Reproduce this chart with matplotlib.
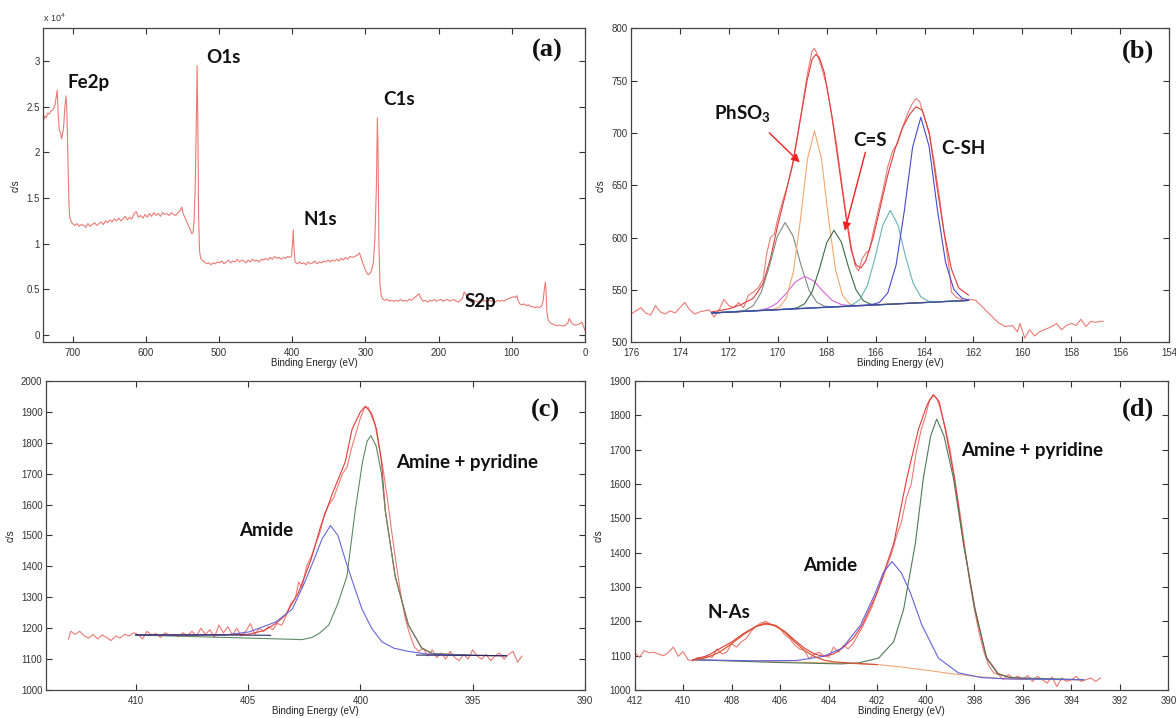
import numpy as np
import matplotlib
matplotlib.use("Agg")
import matplotlib.pyplot as plt
from matplotlib.ticker import FormatStrFormatter

plt.rcParams['font.family'] = ['Liberation Sans', 'DejaVu Sans']
plt.rcParams['mathtext.fontset'] = 'custom'
plt.rcParams['mathtext.rm'] = 'Lato'
plt.rcParams['mathtext.bf'] = 'Lato:bold'

# ---------------- (a) survey spectrum, (binding energy, counts / 1e4)
survey = [
    (742, 2.35), (740, 2.34), (738, 2.40), (736, 2.38), (734, 2.43), (732, 2.42), (730, 2.45), (728, 2.46),
    (726, 2.48), (724, 2.52), (722.5, 2.60), (721, 2.68), (719.5, 2.40), (718, 2.24), (716.5, 2.22),
    (715, 2.15), (713.5, 2.20), (712, 2.30), (710.5, 2.50), (709, 2.62), (708, 2.50), (707, 2.20),
    (706, 1.80), (705, 1.45), (704, 1.30), (702, 1.24),
    (700, 1.22), (697, 1.20), (694, 1.22), (691, 1.19), (688, 1.21), (685, 1.20), (682, 1.18), (679, 1.22),
    (676, 1.19), (673, 1.21), (670, 1.23), (667, 1.20), (664, 1.22), (661, 1.24), (658, 1.21), (655, 1.25),
    (652, 1.23), (649, 1.26), (646, 1.24), (643, 1.27), (640, 1.25), (637, 1.28), (634, 1.25), (631, 1.27),
    (628, 1.30), (625, 1.26), (622, 1.29), (619, 1.27), (616, 1.33), (613, 1.35), (610, 1.29), (607, 1.31),
    (604, 1.28), (601, 1.32), (598, 1.29), (595, 1.33), (592, 1.30), (589, 1.34), (586, 1.31), (583, 1.33),
    (580, 1.30), (577, 1.34), (574, 1.32), (571, 1.33), (568, 1.31), (565, 1.34), (562, 1.32), (559, 1.31),
    (556, 1.34), (553, 1.36), (550.6, 1.40), (549, 1.33), (546, 1.28), (543, 1.22), (540, 1.17),
    (537, 1.11), (535.5, 1.12), (534, 1.25), (532.5, 1.60), (531, 2.30), (529.8, 2.95), (528.8, 2.30),
    (527.8, 1.30), (526.5, 0.92), (525, 0.84), (523, 0.82), (520, 0.80), (517, 0.78), (514, 0.79),
    (511, 0.77), (508, 0.79), (505, 0.78), (502, 0.80), (499, 0.79), (496, 0.81), (493, 0.78), (490, 0.80),
    (487, 0.82), (484, 0.79), (481, 0.81), (478, 0.80), (475, 0.83), (472, 0.80), (469, 0.82), (466, 0.81),
    (463, 0.79), (460, 0.82), (457, 0.80), (454, 0.83), (451, 0.81), (448, 0.82), (445, 0.80), (442, 0.83),
    (439, 0.82), (436, 0.84), (433, 0.82), (430, 0.85), (427, 0.83), (424, 0.86), (421, 0.84), (418, 0.85),
    (415, 0.83), (412, 0.85), (409, 0.84), (406, 0.86), (403, 0.85), (401, 0.86), (399.5, 1.00),
    (398.5, 1.15), (397.5, 0.95), (396, 0.80), (393, 0.78), (390, 0.80), (387, 0.78), (384, 0.79),
    (381, 0.77), (378, 0.80), (375, 0.78), (372, 0.79), (369, 0.81), (366, 0.78), (363, 0.80), (360, 0.79),
    (357, 0.81), (354, 0.80), (351, 0.82), (348, 0.80), (345, 0.82), (342, 0.81), (339, 0.83), (336, 0.81),
    (333, 0.84), (330, 0.82), (327, 0.85), (324, 0.83), (321, 0.86), (318, 0.85), (315, 0.86), (312, 0.87),
    (310, 0.88), (308, 0.90), (306, 0.85), (304, 0.80), (301, 0.73), (298, 0.68), (296, 0.66), (293, 0.68),
    (291, 0.72), (289, 0.80), (287, 1.05), (285, 1.60), (283.5, 2.38), (282.5, 1.90), (281.5, 1.00),
    (280, 0.55), (278, 0.42), (276, 0.39), (273, 0.38), (270, 0.39), (267, 0.37), (264, 0.38), (261, 0.37),
    (258, 0.38), (255, 0.37), (252, 0.39), (249, 0.37), (246, 0.38), (243, 0.37), (240, 0.39), (237, 0.38),
    (234, 0.40), (231, 0.42), (228.5, 0.44), (226.5, 0.45), (224, 0.40), (221, 0.37), (218, 0.38),
    (215, 0.36), (212, 0.38), (209, 0.37), (206, 0.39), (203, 0.37), (200, 0.38), (197, 0.39), (194, 0.37),
    (191, 0.38), (188, 0.39), (185, 0.37), (182, 0.38), (179, 0.39), (176, 0.37), (173, 0.36), (170, 0.38),
    (167.5, 0.40), (165, 0.47), (163, 0.45), (161, 0.40), (158, 0.38), (155, 0.36), (152, 0.38),
    (149, 0.37), (146, 0.36), (143, 0.38), (140, 0.37), (137, 0.38), (134, 0.36), (131, 0.38), (128, 0.37),
    (125, 0.38), (122, 0.36), (119, 0.38), (116, 0.37), (113, 0.38), (110, 0.37), (107, 0.39), (104, 0.40),
    (101, 0.41), (98, 0.42), (95, 0.41), (93, 0.43), (91, 0.37), (89, 0.34), (86, 0.33), (83, 0.34),
    (80, 0.32), (77, 0.33), (74, 0.31), (71, 0.31), (68, 0.30), (65, 0.31), (62, 0.30), (59, 0.32),
    (57, 0.38), (55.5, 0.50), (54, 0.58), (53, 0.45), (52, 0.25), (50, 0.16), (47, 0.13), (44, 0.12),
    (41, 0.11), (38, 0.10), (35, 0.11), (32, 0.10), (29, 0.10), (26, 0.11), (23.5, 0.13), (21.5, 0.18),
    (19.5, 0.15), (17, 0.12), (14, 0.11), (11, 0.11), (8, 0.12), (6, 0.13), (4, 0.14), (2, 0.10), (0, 0.05)]

# ---------------- (b) S2p
s_raw = [
    (176.0, 527), (175.8, 530), (175.6, 533), (175.4, 528), (175.2, 526), (175.0, 535), (174.8, 529),
    (174.6, 527), (174.4, 530), (174.2, 528), (174.0, 533), (173.8, 538), (173.6, 531), (173.4, 527),
    (173.2, 529), (173.0, 530), (172.8, 531), (172.6, 524), (172.4, 531), (172.2, 541), (172.0, 535),
    (171.8, 533), (171.6, 538), (171.4, 533), (171.2, 545), (171.0, 548), (170.8, 552), (170.6, 560),
    (170.45, 585), (170.3, 600), (170.15, 603), (170.0, 618), (169.8, 635), (169.6, 650), (169.4, 668),
    (169.2, 695), (169.0, 725), (168.8, 755), (168.6, 778), (168.5, 781), (168.4, 776), (168.2, 762),
    (168.0, 745), (167.8, 718), (167.6, 690), (167.4, 655), (167.2, 622), (167.0, 592), (166.85, 574),
    (166.7, 568), (166.55, 580), (166.4, 585), (166.25, 588), (166.1, 605), (165.9, 625), (165.7, 645),
    (165.5, 668), (165.3, 683), (165.1, 690), (164.9, 705), (164.7, 718), (164.5, 728), (164.35, 733),
    (164.2, 730), (164.0, 715), (163.8, 698), (163.6, 672), (163.4, 640), (163.2, 605), (163.0, 572),
    (162.9, 548), (162.7, 543), (162.4, 540), (162.1, 541), (161.9, 540), (161.6, 533), (161.3, 526),
    (161.0, 519), (160.7, 515), (160.4, 516), (160.2, 510), (160.1, 518), (159.9, 504), (159.7, 512),
    (159.5, 506), (159.3, 510), (159.0, 513), (158.8, 515), (158.6, 518), (158.4, 512), (158.2, 516),
    (158.0, 518), (157.8, 516), (157.6, 522), (157.4, 515), (157.2, 520), (157.0, 519), (156.8, 520),
    (156.7, 520)]
s_env_E = [172.7, 172.0, 171.5, 171.0, 170.6, 170.3, 170.0, 169.7, 169.4, 169.1, 168.8, 168.6, 168.45, 168.3,
           168.1, 167.8, 167.5, 167.2, 167.0, 166.8, 166.6, 166.4, 166.1, 165.8, 165.5, 165.2, 164.9, 164.6,
           164.35, 164.1, 163.8, 163.5, 163.2, 162.9, 162.6, 162.2]
s_env_I = [529, 532, 536, 542, 556, 580, 612, 640, 670, 710, 750, 770, 775, 772, 758, 718, 668, 618, 588, 574,
           571, 578, 600, 630, 660, 685, 705, 718, 725, 722, 700, 650, 605, 570, 552, 545]
s_bg_E = [172.7, 162.2]
s_bg_I = [528, 540]
s_gray_E = [172.7, 171.78, 171.325, 171.0, 170.675, 170.35, 170.025, 169.7, 169.375, 169.05, 168.725, 168.4,
            168.075, 167.62, 162.2]
s_gray_I = [528, 529.3, 530.7, 535.1, 547.7, 572.2, 600.8, 614.4, 601.6, 573.7, 549.9, 538.1, 534.4, 533.8, 540]
s_mag_E = [172.7, 171.3, 170.775, 170.4, 170.025, 169.65, 169.275, 168.9, 168.525, 168.15, 167.775, 167.4,
           167.025, 166.5, 162.2]
s_mag_I = [528, 529.6, 530.6, 532.5, 537.5, 546.8, 557.7, 563.0, 558.6, 548.6, 540.0, 536.0, 534.9, 535.1, 540]
s_org_E = [172.7, 170.225, 169.9375, 169.65, 169.3625, 169.075, 168.7875, 168.5, 168.2125, 167.925, 167.6375,
           167.35, 167.0625, 166.775, 162.2]
s_org_I = [528, 531.1, 533.4, 542.1, 567.3, 616.7, 674.8, 702.0, 675.4, 618.1, 569.3, 544.7, 536.6, 535.1, 540]
s_grn_E = [172.7, 169.5, 169.2, 168.9, 168.6, 168.3, 168.0, 167.7, 167.4, 167.1, 166.8, 166.5, 166.2, 165.9,
           162.2]
s_grn_I = [528, 531.8, 533.0, 536.9, 548.1, 569.7, 595.0, 607.0, 595.7, 571.1, 550.1, 539.7, 536.4, 535.9, 540]
s_teal_E = [172.7, 167.275, 166.9625, 166.65, 166.3375, 166.025, 165.7125, 165.4, 165.0875, 164.775, 164.4625,
            164.15, 163.8375, 163.525, 162.2]
s_teal_I = [528, 534.4, 535.8, 540.5, 554.1, 580.5, 611.4, 626.0, 612.1, 581.9, 556.2, 543.4, 539.3, 538.7, 540]
s_blue_E = [172.7, 166.175, 165.8375, 165.5, 165.1625, 164.825, 164.4875, 164.15, 163.8125, 163.475, 163.1375,
            162.8, 162.4625, 162.2]
s_blue_I = [528, 535.8, 538.1, 547.3, 573.8, 625.6, 686.4, 715.0, 687.2, 627.1, 576.1, 550.4, 542.0, 540.5]

# ---------------- (c) N1s
c_raw = [
    (413.0, 1165), (412.9, 1190), (412.7, 1180), (412.5, 1190), (412.3, 1175), (412.1, 1168), (411.9, 1180),
    (411.7, 1165), (411.5, 1178), (411.3, 1170), (411.1, 1160), (410.9, 1175), (410.7, 1168), (410.5, 1180),
    (410.3, 1175), (410.1, 1185), (409.9, 1180), (409.7, 1165), (409.5, 1190), (409.3, 1178), (409.1, 1183),
    (408.9, 1170), (408.7, 1185), (408.5, 1178), (408.3, 1180), (408.1, 1172), (407.9, 1185), (407.7, 1176),
    (407.5, 1190), (407.3, 1175), (407.1, 1200), (406.9, 1180), (406.7, 1195), (406.5, 1170), (406.3, 1210),
    (406.1, 1185), (405.9, 1205), (405.7, 1178), (405.5, 1200), (405.3, 1175), (405.1, 1190), (404.9, 1215),
    (404.7, 1180), (404.5, 1200), (404.3, 1190), (404.1, 1205), (403.9, 1195), (403.7, 1215), (403.5, 1210),
    (403.3, 1240), (403.1, 1280), (402.9, 1295), (402.75, 1350), (402.6, 1330), (402.4, 1400), (402.2, 1430),
    (402.0, 1470), (401.8, 1510), (401.6, 1570), (401.4, 1600), (401.2, 1620), (401.0, 1660), (400.8, 1700),
    (400.6, 1720), (400.4, 1780), (400.2, 1830), (400.0, 1880), (399.8, 1915), (399.65, 1915), (399.5, 1885),
    (399.35, 1860), (399.2, 1800), (399.0, 1720), (398.8, 1620), (398.6, 1510), (398.4, 1405), (398.2, 1310),
    (398.0, 1230), (397.8, 1180), (397.6, 1140), (397.4, 1125), (397.2, 1135), (397.0, 1110), (396.8, 1130),
    (396.6, 1105), (396.4, 1120), (396.2, 1100), (396.0, 1125), (395.8, 1105), (395.6, 1095), (395.4, 1115),
    (395.2, 1100), (395.0, 1130), (394.8, 1110), (394.6, 1100), (394.4, 1115), (394.2, 1095), (394.0, 1110),
    (393.8, 1120), (393.6, 1100), (393.4, 1115), (393.2, 1125), (393.0, 1090), (392.8, 1110)]
c_env_E = [410, 405, 404.3, 403.77, 403.35, 402.76, 402.2, 401.78, 401.26, 400.67, 400.37, 400.0, 399.78,
           399.5, 399.28, 399.06, 398.89, 398.45, 397.86, 397.27, 396.8, 395, 393.5]
c_env_I = [1178, 1180, 1192, 1215, 1241, 1315, 1421, 1527, 1633, 1739, 1844, 1900, 1918, 1895, 1844, 1739,
           1580, 1368, 1210, 1136, 1118, 1112, 1111]
c_amide_E = [410, 406, 404.95, 403.77, 403.03, 402.5, 402.07, 401.7, 401.33, 401.0, 400.67, 400.3, 399.93,
             399.5, 399.04, 398.5, 397.86, 397.0, 395, 393.5]
c_amide_I = [1178, 1178, 1188, 1220, 1262, 1345, 1421, 1490, 1532, 1500, 1421, 1340, 1262, 1200, 1156, 1135,
             1125, 1116, 1112, 1111]
c_amine_E = [410, 407, 404, 402.6, 402.15, 401.8, 401.41, 401.0, 400.6, 400.23, 399.9, 399.7, 399.53, 399.3,
             399.06, 398.89, 398.45, 397.86, 397.27, 396.8, 395, 393.5]
c_amine_I = [1178, 1172, 1166, 1163, 1170, 1185, 1210, 1280, 1368, 1580, 1740, 1805, 1823, 1790, 1700, 1580,
             1368, 1210, 1136, 1118, 1112, 1111]
c_bg_E = [410, 406, 404, np.nan, 397.5, 395, 393.5]
c_bg_I = [1178, 1178, 1177, np.nan, 1113, 1112, 1111]

# ---------------- (d) N1s with N-As
d_raw = [
    (412.0, 1110), (411.8, 1095), (411.6, 1115), (411.4, 1108), (411.2, 1110), (411.0, 1104), (410.8, 1100),
    (410.6, 1110), (410.4, 1125), (410.2, 1098), (410.0, 1112), (409.8, 1088), (409.6, 1085), (409.4, 1095),
    (409.2, 1090), (409.0, 1100), (408.8, 1095), (408.6, 1120), (408.4, 1105), (408.2, 1110), (408.0, 1135),
    (407.8, 1125), (407.6, 1140), (407.4, 1150), (407.2, 1170), (407.0, 1185), (406.8, 1195), (406.6, 1200),
    (406.4, 1192), (406.2, 1185), (406.0, 1178), (405.8, 1160), (405.6, 1150), (405.4, 1130), (405.2, 1120),
    (405.0, 1115), (404.8, 1090), (404.6, 1105), (404.4, 1110), (404.2, 1100), (404.0, 1095), (403.8, 1125),
    (403.6, 1110), (403.4, 1130), (403.2, 1120), (403.0, 1135), (402.8, 1160), (402.6, 1185), (402.4, 1215),
    (402.2, 1245), (402.0, 1285), (401.8, 1320), (401.6, 1360), (401.4, 1400), (401.2, 1450), (401.0, 1490),
    (400.8, 1560), (400.6, 1600), (400.4, 1690), (400.2, 1755), (400.0, 1800), (399.85, 1845), (399.7, 1858),
    (399.55, 1850), (399.4, 1820), (399.2, 1765), (399.0, 1700), (398.8, 1610), (398.6, 1520), (398.4, 1420),
    (398.2, 1320), (398.0, 1235), (397.8, 1165), (397.6, 1110), (397.4, 1070), (397.2, 1050), (397.0, 1045),
    (396.8, 1030), (396.6, 1045), (396.4, 1035), (396.2, 1040), (396.0, 1030), (395.8, 1042), (395.6, 1025),
    (395.4, 1040), (395.2, 1030), (395.0, 1020), (394.8, 1038), (394.6, 1010), (394.4, 1035), (394.2, 1025),
    (394.0, 1030), (393.8, 1040), (393.6, 1025), (393.4, 1030), (393.2, 1035), (393.0, 1025), (392.8, 1035)]
d_env_E = [409.6, 409.0, 408.5, 408.0, 407.5, 407.0, 406.6, 406.2, 405.8, 405.4, 405.0, 404.6, 404.2, 403.8,
           403.44, 403.0, 402.62, 402.0, 401.32, 400.78, 400.3, 399.95, 399.69, 399.45, 399.2, 398.82, 398.45,
           397.98, 397.5, 397.02, 396.5, 395, 393.5]
d_env_I = [1088, 1100, 1120, 1140, 1165, 1185, 1192, 1188, 1170, 1145, 1122, 1105, 1098, 1105, 1122, 1150,
           1189, 1284, 1427, 1617, 1760, 1830, 1860, 1840, 1760, 1617, 1430, 1240, 1095, 1048, 1035, 1031, 1030]
d_nas_E = [409.6, 409.0, 408.5, 408.0, 407.5, 407.0, 406.62, 406.2, 405.8, 405.4, 405.0, 404.6, 404.2, 403.8,
           403.0, 402.0]
d_nas_I = [1088, 1095, 1110, 1135, 1162, 1185, 1195, 1188, 1168, 1140, 1115, 1098, 1087, 1082, 1078, 1074]
d_amide_E = [409.6, 407, 405.32, 404.22, 403.44, 402.69, 402.07, 401.75, 401.39, 401.0, 400.64, 400.16, 399.48,
             398.66, 397.7, 396.5, 393.5]
d_amide_I = [1088, 1085, 1086, 1098, 1122, 1189, 1284, 1342, 1374, 1340, 1284, 1189, 1093, 1050, 1036, 1032,
             1030]
d_amine_E = [409.6, 406, 403.5, 402.76, 401.94, 401.32, 400.91, 400.43, 400.1, 399.8, 399.55, 399.25, 398.86,
             398.45, 397.98, 397.5, 397.02, 396.5, 393.5]
d_amine_I = [1088, 1080, 1076, 1079, 1093, 1141, 1236, 1427, 1617, 1740, 1789, 1740, 1617, 1427, 1236, 1093,
             1046, 1036, 1030]
d_bg_E = [409.6, 406, 404, 403, 402, 401, 400, 399, 398, 397, 396, 393.5]
d_bg_I = [1088, 1082, 1079, 1077, 1074, 1067, 1058, 1048, 1040, 1034, 1031, 1030]

RAW = '#ec7a74'
ENV = '#e03c3c'
lab_font = dict(family=['Lato', 'DejaVu Sans'], fontweight='bold', fontsize=13.5, color='#111111')
panel_font = dict(family='Liberation Serif', fontweight='bold', fontsize=19, color='#111111')

fig = plt.figure(figsize=(11.76, 7.18), dpi=100)
ax_a = fig.add_axes([0.0368, 0.5233, 0.4606, 0.4373])
ax_b = fig.add_axes([0.5366, 0.5233, 0.4575, 0.4373])
ax_c = fig.add_axes([0.0391, 0.0390, 0.4583, 0.4304])
ax_d = fig.add_axes([0.5396, 0.0390, 0.4540, 0.4304])


def style(ax):
    ax.tick_params(direction='in', top=True, right=True, length=4, width=0.8,
                   labelsize=7, colors='#333333')
    ax.tick_params(axis='x', pad=4)
    ax.tick_params(axis='y', pad=2.5)
    for s in ax.spines.values():
        s.set_color('#444444')
        s.set_linewidth(0.9)
    ax.set_xlabel('Binding Energy (eV)', fontsize=7, labelpad=0, color='#222222')
    ax.set_ylabel('c/s', fontsize=7, labelpad=4, color='#222222')


def xy(pairs):
    return [p[0] for p in pairs], [p[1] for p in pairs]


# (a)
ax_a.plot(*xy(survey), color=RAW, lw=0.8)
ax_a.set_xlim(740, 0)
ax_a.set_ylim(-0.08, 3.36)
ax_a.set_xticks(range(700, -1, -100))
ax_a.set_yticks([0, 0.5, 1, 1.5, 2, 2.5, 3])
ax_a.yaxis.set_major_formatter(FormatStrFormatter('%g'))
style(ax_a)
ax_a.text(0.0, 1.015, r'x 10$^4$', transform=ax_a.transAxes, fontsize=6.5, color='#333333', va='bottom',
          family='Liberation Sans')
for txt, e, v in [('Fe2p', 707, 2.77), ('O1s', 518, 3.04), ('N1s', 385, 1.27), ('C1s', 276, 2.58),
                  ('S2p', 164, 0.37)]:
    ax_a.text(e, v, txt, ha='left', va='center', **lab_font)
ax_a.text(31, 3.12, '(a)', ha='right', va='center', **panel_font)

# (b)
ax_b.plot(*xy(s_raw), color=RAW, lw=0.8)
ax_b.plot(s_env_E, s_env_I, color=ENV, lw=0.8)
ax_b.plot(s_gray_E, s_gray_I, color='#7f8a80', lw=0.8)
ax_b.plot(s_mag_E, s_mag_I, color='#d666d6', lw=0.8)
ax_b.plot(s_org_E, s_org_I, color='#f5a66e', lw=0.8)
ax_b.plot(s_grn_E, s_grn_I, color='#3d6b48', lw=0.8)
ax_b.plot(s_teal_E, s_teal_I, color='#68b4b4', lw=0.8)
ax_b.plot(s_blue_E, s_blue_I, color='#4848d0', lw=0.8)
ax_b.plot(s_bg_E, s_bg_I, color='#3a4fa0', lw=0.9)
ax_b.set_xlim(176, 154)
ax_b.set_ylim(500, 800)
ax_b.set_xticks(range(176, 153, -2))
ax_b.set_yticks(range(500, 801, 50))
style(ax_b)
ax_b.text(172.6, 718, r'PhSO$_{\mathbf{3}}$', ha='left', va='center', **lab_font)
ax_b.text(166.93, 693, 'C=S', ha='left', va='center', **lab_font)
ax_b.text(163.33, 685, 'C-SH', ha='left', va='center', **lab_font)
ax_b.annotate('', xy=(169.02, 670), xytext=(170.43, 702),
              arrowprops=dict(arrowstyle='-|>', color='#ee2222', lw=1.0, mutation_scale=12))
ax_b.annotate('', xy=(167.29, 604), xytext=(166.39, 684),
              arrowprops=dict(arrowstyle='-|>', color='#ee2222', lw=1.0, mutation_scale=12))
ax_b.text(154.6, 777.6, '(b)', ha='right', va='center', **panel_font)

# (c)
ax_c.plot(*xy(c_raw), color=RAW, lw=0.8)
ax_c.plot(c_env_E, c_env_I, color=ENV, lw=0.8)
ax_c.plot(c_amine_E, c_amine_I, color='#5f8a68', lw=0.8)
ax_c.plot(c_amide_E, c_amide_I, color='#6666dd', lw=0.8)
ax_c.plot(c_bg_E, c_bg_I, color='#2a2a60', lw=0.8)
ax_c.set_xlim(414, 390)
ax_c.set_ylim(1000, 2000)
ax_c.set_xticks([410, 405, 400, 395, 390])
ax_c.set_yticks(range(1000, 2001, 100))
style(ax_c)
ax_c.text(405.41, 1516, 'Amide', ha='left', va='center', **lab_font)
ax_c.text(398.43, 1735, 'Amine + pyridine', ha='left', va='center', **lab_font)
ax_c.text(391.09, 1905, '(c)', ha='right', va='center', **panel_font)

# (d)
ax_d.plot(*xy(d_raw), color=RAW, lw=0.8)
ax_d.plot(d_env_E, d_env_I, color=ENV, lw=0.8)
ax_d.plot(d_bg_E, d_bg_I, color='#f2a678', lw=0.8)
ax_d.plot(d_amine_E, d_amine_I, color='#4f7a5a', lw=0.8)
ax_d.plot(d_amide_E, d_amide_I, color='#6262dc', lw=0.8)
ax_d.plot(d_nas_E, d_nas_I, color='#d9542e', lw=0.9)
ax_d.set_xlim(412, 390)
ax_d.set_ylim(1000, 1900)
ax_d.set_xticks(range(412, 389, -2))
ax_d.set_yticks(range(1000, 1901, 100))
style(ax_d)
ax_d.text(409.0, 1225, 'N-As', ha='left', va='center', **lab_font)
ax_d.text(405.07, 1363, 'Amide', ha='left', va='center', **lab_font)
ax_d.text(398.54, 1698, 'Amine + pyridine', ha='left', va='center', **lab_font)
ax_d.text(390.59, 1817, '(d)', ha='right', va='center', **panel_font)

fig.savefig('out.png', dpi=100)
